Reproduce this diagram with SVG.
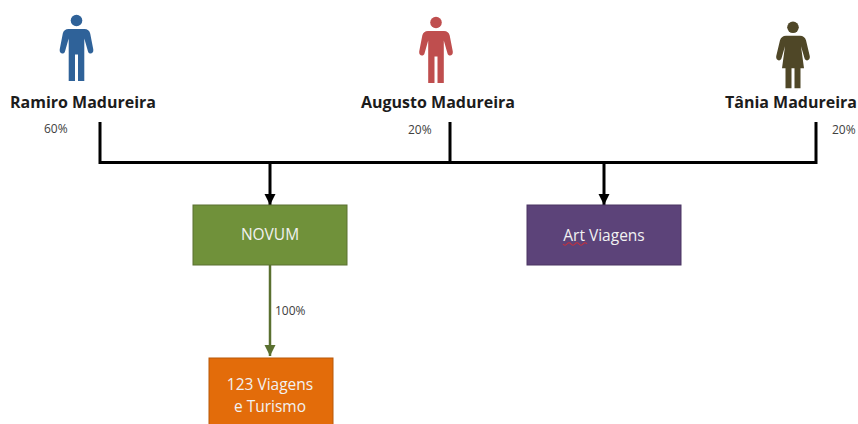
<svg xmlns="http://www.w3.org/2000/svg" width="858" height="424" viewBox="0 0 858 424">
<style>
text{font-family:"Open Sans","Liberation Sans",sans-serif}
.name{font-size:16px;font-weight:700;fill:#1c1c1c;text-anchor:middle}
.pct{font-size:12px;fill:#404040}
.box{font-size:15.500px;fill:#f2f2f2;text-anchor:middle}
.k{fill:none;stroke:#000;stroke-width:3}
.g{fill:none;stroke:#5a7030;stroke-width:2.500}
</style>
<defs>
<marker id="ak" markerUnits="userSpaceOnUse" markerWidth="12" markerHeight="12" refX="11" refY="6" orient="auto"><path d="M0 0.500L11 6L0 11.500z" fill="#000"/></marker>
<marker id="ag" markerUnits="userSpaceOnUse" markerWidth="12" markerHeight="12" refX="11" refY="6" orient="auto"><path d="M0 0.500L11 6L0 11.500z" fill="#5a7030"/></marker>
<path id="man" d="M-8 8.500H8C11 8.500 13 10 13.700 13L16.800 29C17.500 33.500 12.500 34.500 11.500 31L7.800 18V60.500H1.500V34H-1.500V60.500H-7.800V18L-11.500 31C-12.500 34.500 -17.500 33.500 -16.800 29L-13.700 13C-13 10 -11 8.500 -8 8.500Z"/>
<path id="woman" d="M-7 8.500H7C10 8.500 12 10 13 13L16.800 29C17.500 33.500 12.500 34.500 11.500 31L8 19L11 41H7.500V61H1.500V41H-1.500V61H-7.500V41H-11L-8 19L-11.500 31C-12.500 34.500 -17.500 33.500 -16.800 29L-13 13C-12 10 -10 8.500 -7 8.500Z"/>
</defs>
<g id="connectors">
<path class="k" d="M100 122V162.500H816V122M450 122V162.500"/>
<path class="k" d="M270 162.500V205" marker-end="url(#ak)"/>
<path class="k" d="M604 162.500V205" marker-end="url(#ak)"/>
<path class="g" d="M270 265V356" marker-end="url(#ag)"/>
<text class="pct" x="275" y="315">100%</text>
</g>
<g id="ramiro">
<g fill="#2f6299" transform="translate(76.500 20.500)"><circle r="5.800"/><use href="#man"/></g>
<text class="name" x="83" y="108">Ramiro Madureira</text>
<text class="pct" x="44" y="133">60%</text>
</g>
<g id="augusto">
<g fill="#bf4e4e" transform="translate(436 22.500)"><circle r="5.800"/><use href="#man"/></g>
<text class="name" x="438" y="108">Augusto Madureira</text>
<text class="pct" x="408" y="134">20%</text>
</g>
<g id="tania">
<g fill="#4f4727" transform="translate(793 27.300)"><circle r="5.800"/><use href="#woman"/></g>
<text class="name" x="791" y="108">Tânia Madureira</text>
<text class="pct" x="832" y="134">20%</text>
</g>
<g id="novum">
<rect x="193" y="205" width="154" height="60" fill="#70913a" stroke="#5a7030"/>
<text class="box" x="270" y="240">NOVUM</text>
</g>
<g id="art-viagens">
<rect x="527" y="205" width="154" height="60" fill="#5c4379" stroke="#4a3563"/>
<text class="box" x="604" y="241">Art Viagens</text>
<path d="M563 244q2 2.500 4 0t4 0t4 0t4 0t4 0t4 0" fill="none" stroke="#c8303c" stroke-width="1.200"/>
</g>
<g id="viagens-turismo">
<rect x="209" y="358" width="124" height="68" fill="#e36c0a" stroke="#b85808"/>
<text class="box" x="270" y="390">123 Viagens</text>
<text class="box" x="270" y="412">e Turismo</text>
</g>
</svg>
